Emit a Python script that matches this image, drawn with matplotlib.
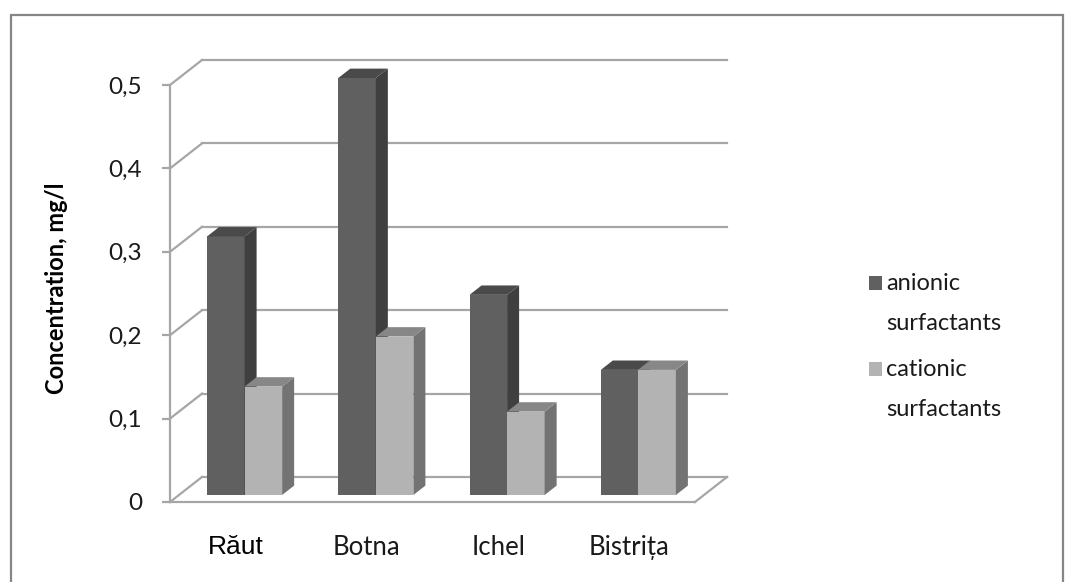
import matplotlib
matplotlib.use("Agg")
import matplotlib.pyplot as plt
from matplotlib.patches import Polygon, Rectangle

# datos del grafico
rios = ["Răut", "Botna", "Ichel", "Bistrița"]
anionic = [0.31, 0.50, 0.24, 0.15]
cationic = [0.13, 0.19, 0.10, 0.15]
series_labels = ["anionic\nsurfactants", "cationic\nsurfactants"]
y_ticks = [0, 0.1, 0.2, 0.3, 0.4, 0.5]
y_ticklabels = ["0", "0,1", "0,2", "0,3", "0,4", "0,5"]

# colores: frente, lado, arriba
col_an = ("#606060", "#3f3f3f", "#4a4a4a")
col_cat = ("#b3b3b3", "#737373", "#878787")
grid_col = "#a6a6a6"
txt_col = "#1a1a1a"

plt.rcParams["font.family"] = ["Lato", "DejaVu Sans"]

W, H = 1075, 582
fig = plt.figure(figsize=(W / 100, H / 100), dpi=100)
ax = fig.add_axes([170 / W, 80 / H, 525 / W, 417 / H])
ax.set_xlim(-0.5, len(rios) - 0.5)
ax.set_ylim(0, 0.5)

# profundidad de la caja 3D en unidades de datos
DX = 0.244
DY = 0.030
f0, f1 = 0.28, 0.655   # posicion de las barras dentro de la profundidad
w = 0.286

x0, x1 = -0.5, len(rios) - 0.5
lw = 1.6
# paredes y lineas de cuadricula
for t in y_ticks:
    ax.plot([x0 + DX, x1 + DX], [t + DY, t + DY], color=grid_col, lw=lw, clip_on=False, zorder=1)
    ax.plot([x0, x0 + DX], [t, t + DY], color=grid_col, lw=lw, clip_on=False, zorder=1)
ax.plot([x0, x1], [0, 0], color=grid_col, lw=lw, clip_on=False, zorder=1)
ax.plot([x1, x1 + DX], [0, DY], color=grid_col, lw=lw, clip_on=False, zorder=1)


def barra3d(xl, v, cols):
    fx, fy = f0 * DX, f0 * DY
    bx, by = f1 * DX, f1 * DY
    ax.bar(xl + fx, v, width=w, bottom=fy, align="edge", color=cols[0],
           edgecolor="none", clip_on=False, zorder=3)
    xr = xl + fx + w
    lado = [(xr, fy), (xr + bx - fx, by), (xr + bx - fx, v + by), (xr, v + fy)]
    ax.add_patch(Polygon(lado, closed=True, color=cols[1], lw=0, clip_on=False, zorder=3))
    arriba = [(xl + fx, v + fy), (xr, v + fy), (xr + bx - fx, v + by), (xl + bx, v + by)]
    ax.add_patch(Polygon(arriba, closed=True, color=cols[2], lw=0, clip_on=False, zorder=3))


for i in range(len(rios)):
    barra3d(i - w, anionic[i], col_an)
    barra3d(i, cationic[i], col_cat)

# ejes
for s in ["top", "right", "bottom"]:
    ax.spines[s].set_visible(False)
ax.spines["left"].set_color(grid_col)
ax.spines["left"].set_linewidth(lw)
ax.spines["left"].set_zorder(2)
ax.set_yticks(y_ticks)
ax.set_yticklabels(y_ticklabels)
ax.tick_params(axis="y", direction="out", length=6, width=lw, color=grid_col,
               labelsize=17.5, pad=14, labelcolor=txt_col)
ax.set_xticks(range(len(rios)))
ax.set_xticklabels(rios)
ax.tick_params(axis="x", length=0, labelsize=18.5, pad=24, labelcolor=txt_col)
ax.get_xticklabels()[0].set_fontfamily("Liberation Sans")
ax.get_xticklabels()[0].set_fontsize(19)
ax.get_xticklabels()[0].set_color("black")
ax.patch.set_visible(False)

fig.text(57 / W, 1 - 288 / H, "Concentration, mg/l", rotation=90, fontsize=17,
         fontweight="bold", ha="center", va="center", color="black")

# leyenda hecha a mano: cuadrado alineado con la primera linea
leg_y = [283, 369]
for lab, col, yy in zip(series_labels, [col_an[0], col_cat[0]], leg_y):
    fig.add_artist(Rectangle((869 / W, 1 - (yy + 7) / H), 13 / W, 14 / H,
                             transform=fig.transFigure, color=col, lw=0))
    for k, linea in enumerate(lab.split("\n")):
        fig.text(886 / W, 1 - (yy + 40 * k) / H, linea, fontsize=17, color=txt_col,
                 ha="left", va="center")

# borde del grafico
fig.add_artist(Rectangle((11 / W, -0.02), 1052 / W, (H - 15) / H + 0.02,
                         transform=fig.transFigure, fill=False, edgecolor="#868686", lw=1.6))

fig.savefig("out.png", dpi=100)
